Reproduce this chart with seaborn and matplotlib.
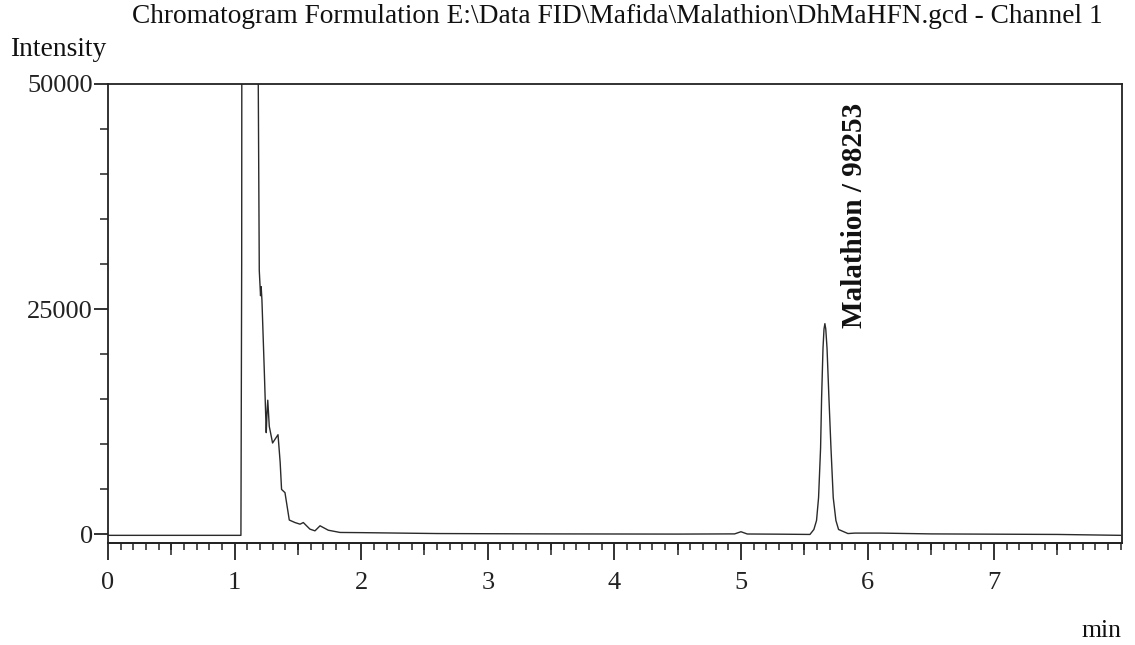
import numpy as np
import pandas as pd
import matplotlib
matplotlib.use("Agg")
import matplotlib.pyplot as plt
from matplotlib.ticker import MultipleLocator, FixedLocator
import seaborn as sns

# ---- data ----
time_min = [0.00, 0.50, 1.00, 1.050, 1.056, 1.064, 1.175, 1.187, 1.195, 1.205, 1.210, 1.216,
            1.235, 1.250, 1.256, 1.262, 1.274, 1.300, 1.343, 1.360, 1.371, 1.398, 1.432,
            1.477, 1.517, 1.543, 1.595, 1.635, 1.675, 1.740, 1.833, 2.00, 2.30, 2.60,
            3.00, 3.50, 4.00, 4.50, 4.95, 5.00, 5.05, 5.30, 5.545, 5.576, 5.597, 5.613,
            5.629, 5.637, 5.648, 5.656, 5.663, 5.670, 5.680, 5.695, 5.711, 5.729, 5.750, 5.771,
            5.845, 5.90, 6.10, 6.50, 7.00, 7.50, 8.00]
intensity = [-100, -100, -100, -100, 30000, 200000, 200000, 50000, 29300, 26500, 27500, 26000,
             18000, 11300, 13500, 14900, 12000, 10150, 11070, 8000, 5000, 4640, 1600,
             1320, 1140, 1320, 590, 400, 960, 470, 220, 200, 150, 100,
             80, 60, 50, 40, 60, 300, 50, 30, 0, 550, 1550, 4080,
             9600, 15120, 20640, 22800, 23400, 22800, 20640, 15120, 9600, 4080, 1550, 550,
             100, 150, 150, 60, 30, 0, -100]

peak_name = "Malathion"
peak_area = 98253
peak_time = 5.663
peak_height = 23400

title = r"Chromatogram Formulation E:\Data FID\Mafida\Malathion\DhMaHFN.gcd - Channel 1"
x_major = [0, 1, 2, 3, 4, 5, 6, 7]
x_mid = [0.5, 1.5, 2.5, 3.5, 4.5, 5.5, 6.5, 7.5]
y_major = [0, 25000, 50000]

# ---- style ----
sns.set_theme(style="ticks")
plt.rcParams["font.family"] = ["Liberation Serif", "DejaVu Serif"]
plt.rcParams["axes.edgecolor"] = "#222222"
plt.rcParams["xtick.color"] = "#222222"
plt.rcParams["ytick.color"] = "#222222"
plt.rcParams["text.color"] = "#111111"

fig = plt.figure(figsize=(11.35, 6.45), dpi=100)
ax = fig.add_axes([108/1135, 1-543/645, (1122-108)/1135, (543-84)/645])

df = pd.DataFrame({"t": time_min, "I": intensity})
sns.lineplot(data=df, x="t", y="I", ax=ax, estimator=None, sort=False,
             color="#2a2a2a", linewidth=1.0)

ax.set_xlim(0, 8.01)
ax.set_ylim(-950, 50000)
ax.set_xlabel("")
ax.set_ylabel("")

for s in ax.spines.values():
    s.set_linewidth(1.3)
    s.set_visible(True)

ax.xaxis.set_major_locator(FixedLocator(x_major))
ax.xaxis.set_minor_locator(MultipleLocator(0.1))
ax.set_xticklabels([str(v) for v in x_major])
ax.tick_params(axis="x", which="major", length=12, width=1.3, labelsize=19, pad=9, direction="out")
ax.tick_params(axis="x", which="minor", length=5, width=1.1, direction="out")

sec = ax.secondary_xaxis("bottom")
sec.xaxis.set_major_locator(FixedLocator(x_mid))
sec.set_xticklabels([])
sec.tick_params(axis="x", which="major", length=8.5, width=1.1, direction="out")
sec.spines["bottom"].set_linewidth(1.3)

ax.yaxis.set_major_locator(FixedLocator(y_major))
ax.yaxis.set_minor_locator(MultipleLocator(5000))
ax.set_yticklabels([str(v) for v in y_major])
ax.tick_params(axis="y", which="major", length=10, width=1.3, labelsize=19, pad=1, direction="out")
ax.tick_params(axis="y", which="minor", length=6, width=1.1, direction="out")

ax.text(peak_time + 0.235, peak_height - 450, f"{peak_name} / {peak_area}",
        rotation=90, ha="center", va="bottom", fontsize=21, fontweight="bold")

fig.text(0.544, 0.974, title, ha="center", va="center", fontsize=19.7)
fig.text(10/1135, 1-50/645, "Intensity", ha="left", va="center", fontsize=19.8)
fig.text(1121/1135, 1-637/645, "min", ha="right", va="baseline", fontsize=18.5)

fig.savefig("out.png", dpi=100)
